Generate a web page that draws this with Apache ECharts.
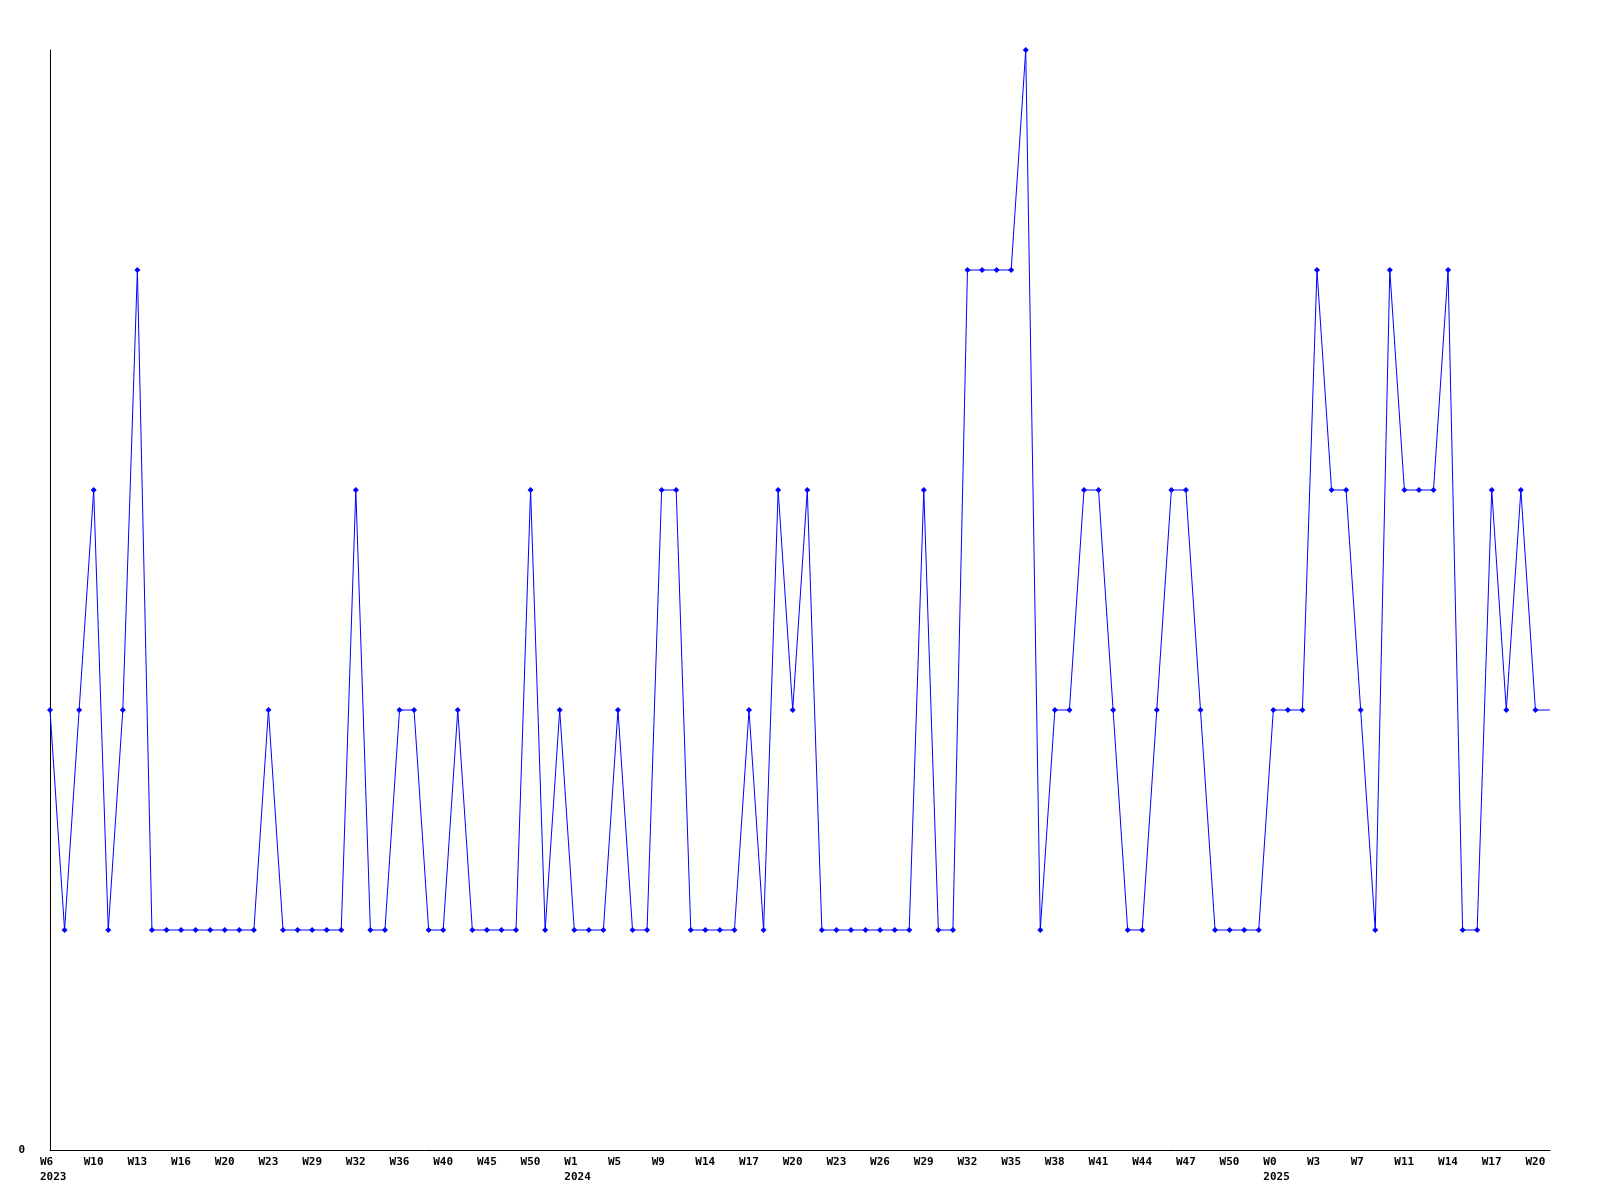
<!DOCTYPE html>
<html>
<head>
<meta charset="utf-8">
<script src="https://cdn.jsdelivr.net/npm/echarts@6/dist/echarts.min.js"></script>
<style>
html,body{margin:0;padding:0;background:#fff;}
#chart{width:1600px;height:1200px;}
</style>
</head>
<body>
<div id="chart"></div>
<script>
// Week labels for each data point (every third one is shown on the axis)
const weekLabels = [
  'W6','W7','W9','W10','W11','W12','W13','W14','W15','W16',
  'W17','W19','W20','W21','W22','W23','W25','W27','W29','W30',
  'W31','W32','W33','W35','W36','W37','W39','W40','W42','W44',
  'W45','W47','W49','W50','W51','W52','W1','W2','W4','W5',
  'W6','W8','W9','W11','W12','W14','W15','W16','W17','W18',
  'W19','W20','W21','W22','W23','W24','W25','W26','W27','W28',
  'W29','W30','W31','W32','W33','W34','W35','W36','W37','W38',
  'W39','W40','W41','W42','W43','W44','W45','W46','W47','W48',
  'W49','W50','W51','W52','W0','W1','W2','W3','W4','W6',
  'W7','W8','W10','W11','W12','W13','W14','W15','W16','W17',
  'W18','W19','W20','W21'
];
// Year shown under the first labelled week of each year
const yearLabels = { 0: '2023', 36: '2024', 84: '2025' };

// Series values
const values = [
  2,1,2,3,1,2,4,1,1,1,
  1,1,1,1,1,2,1,1,1,1,
  1,3,1,1,2,2,1,1,2,1,
  1,1,1,3,1,2,1,1,1,2,
  1,1,3,3,1,1,1,1,2,1,
  3,2,3,1,1,1,1,1,1,1,
  3,1,1,4,4,4,4,5,1,2,
  2,3,3,2,1,1,2,3,3,2,
  1,1,1,1,2,2,2,4,3,3,
  2,1,4,3,3,3,4,1,1,3,
  2,3,2,2
];

const yTicks = ['0'];

const chart = echarts.init(document.getElementById('chart'));
const seriesData = values.map((v, i) =>
  i === values.length - 1 ? { value: v, symbol: 'none' } : v
);
const font = 'DejaVu Sans Mono';
chart.setOption({
  animation: false,
  backgroundColor: '#ffffff',
  grid: { left: 50, right: 50, top: 50, bottom: 50 },
  xAxis: {
    type: 'category',
    data: weekLabels,
    boundaryGap: false,
    axisLine: { lineStyle: { color: '#000', width: 1 } },
    axisTick: { show: false },
    splitLine: { show: false },
    axisLabel: {
      interval: 2,
      margin: 5,
      color: '#000',
      align: 'center',
      formatter: function (val, idx) {
        const y = yearLabels[idx];
        return y ? '{w|' + val + '}\n{w|' + y + '}' : '{w|' + val + '}';
      },
      rich: {
        w: {
          width: 20, align: 'left', fontFamily: font, fontWeight: 'bold',
          fontSize: 11, lineHeight: 15, color: '#000'
        }
      }
    }
  },
  yAxis: {
    type: 'value',
    min: 0,
    max: 5,
    interval: 1,
    axisLine: { show: true, lineStyle: { color: '#000', width: 1 } },
    axisTick: { show: false },
    splitLine: { show: false },
    axisLabel: {
      margin: 25,
      color: '#000',
      fontFamily: font,
      fontWeight: 'bold',
      fontSize: 11,
      formatter: function (v) { return yTicks.indexOf(String(v)) >= 0 ? String(v) : ''; }
    }
  },
  series: [{
    type: 'line',
    data: seriesData,
    showSymbol: true,
    showAllSymbol: true,
    symbol: 'diamond',
    symbolSize: 6,
    lineStyle: { color: '#0000ff', width: 1 },
    itemStyle: { color: '#0000ff' },
    clip: false
  }]
});
</script>
</body>
</html>
